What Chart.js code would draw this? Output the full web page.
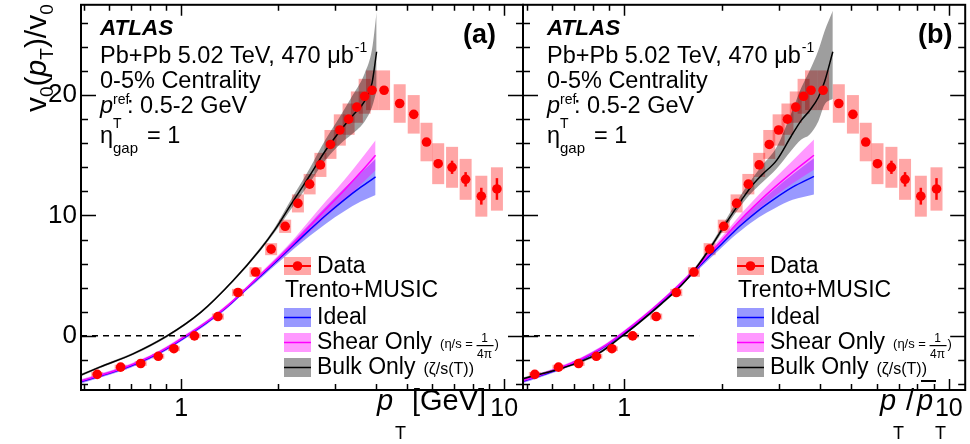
<!DOCTYPE html>
<html lang="en">
<head>
<meta charset="UTF-8">
<title>ATLAS v0 ratio</title>
<script src="https://cdn.jsdelivr.net/npm/chart.js"></script>
<style>
  body { margin: 0; background: #fff; }
  #wrap { position: relative; width: 970px; height: 444px; }
  #wrap canvas { position: absolute; left: 0; top: 0; }
  #ytitle {
    position: absolute; left: 21px; top: 112px; z-index: 2;
    transform-origin: 0 0; transform: rotate(-90deg);
    font-family: "Liberation Sans", Arial, sans-serif; font-size: 30px; line-height: 30px;
    white-space: nowrap; color: #000;
  }
  #ytitle .sub { font-size: 19px; position: relative; top: 7px; }
</style>
</head>
<body>
<div id="wrap">
  <canvas id="panelA" width="970" height="444"></canvas>
  <canvas id="panelB" width="970" height="444"></canvas>
  <div id="ytitle">v<span class="sub">0</span>(<i>p</i><span class="sub">T</span>)/v<span class="sub">0</span></div>
</div>
<script>
// ---- axis settings ----
const yMin = -4.5, yMax = 27.5;
const yMajorTicks = [0, 10, 20];
const yMinorTicks = [-4, -2, 2, 4, 6, 8, 12, 14, 16, 18, 22, 24, 26];
const xMajorTicks = [1, 10];
const xMinorTicks = [0.5, 0.6, 0.7, 0.8, 0.9, 2, 3, 4, 5, 6, 7, 8, 9];

// ---- ATLAS data ----
const dataPt = [0.55, 0.65, 0.75, 0.85, 0.95, 1.1, 1.3, 1.5, 1.7, 1.9, 2.1, 2.3, 2.5, 2.7, 2.9,
                3.1, 3.3, 3.5, 3.7, 3.9, 4.25, 4.75, 5.25, 5.75, 6.25, 6.9, 7.6, 8.5, 9.5];
// pT / <pT> for panel (b)
const dataPtScaled = [0.53, 0.627, 0.723, 0.82, 0.916, 1.061, 1.254, 1.446, 1.639, 1.832, 2.025, 2.218, 2.411, 2.604, 2.797,
                      2.989, 3.182, 3.375, 3.568, 3.761, 4.098, 4.581, 5.063, 5.545, 6.027, 6.654, 7.329, 8.197, 9.161];
const dataV0 = [-3.2, -2.6, -2.3, -1.7, -1.07, 0.0, 1.6, 3.6, 5.3, 7.2, 9.1, 11.0, 12.6, 14.2, 15.9,
                17.1, 18.0, 19.0, 19.9, 20.4, 20.4, 19.3, 18.4, 16.1, 14.3, 14.0, 13.0, 11.6, 12.2];
const dataStat = [0.1, 0.1, 0.1, 0.1, 0.1, 0.1, 0.1, 0.1, 0.1, 0.1, 0.1, 0.1, 0.15, 0.15, 0.15,
                  0.2, 0.2, 0.2, 0.2, 0.2, 0.2, 0.25, 0.3, 0.3, 0.35, 0.55, 0.6, 0.7, 0.9];
const dataSys = [0.2, 0.2, 0.2, 0.2, 0.2, 0.2, 0.25, 0.3, 0.4, 0.5, 0.55, 0.75, 0.85, 1.0, 1.2,
                 1.3, 1.3, 1.3, 1.45, 1.65, 1.65, 1.6, 1.6, 1.6, 1.7, 1.7, 1.7, 1.7, 1.8];

// ---- Trento+MUSIC, panel (a): vs pT ----
const idealXa = [0.49, 0.55, 0.65, 0.75, 0.85, 0.95, 1.05, 1.2, 1.4, 1.6, 1.8, 2.0, 2.25, 2.5, 2.8, 3.2, 3.6, 4.0];
const idealYa = [-3.8, -3.4, -2.8, -2.15, -1.45, -0.7, 0.05, 1.1, 2.5, 3.95, 5.2, 6.35, 7.65, 8.8, 10.0, 11.3, 12.35, 13.2];
const idealHiA = [-3.65, -3.25, -2.65, -2.0, -1.3, -0.55, 0.2, 1.25, 2.65, 4.1, 5.4, 6.6, 8.0, 9.3, 10.7, 12.25, 13.55, 14.7];
const idealLoA = [-3.95, -3.55, -2.95, -2.3, -1.6, -0.85, -0.1, 0.95, 2.35, 3.8, 5.0, 6.1, 7.3, 8.3, 9.3, 10.35, 11.15, 11.7];
const shearYa = [-3.75, -3.35, -2.75, -2.1, -1.4, -0.65, 0.1, 1.15, 2.55, 4.0, 5.3, 6.45, 7.8, 9.1, 10.5, 12.1, 13.6, 15.0];
const shearHiA = [-3.6, -3.2, -2.6, -1.95, -1.25, -0.5, 0.25, 1.3, 2.7, 4.15, 5.5, 6.7, 8.15, 9.6, 11.15, 12.95, 14.65, 16.25];
const shearLoA = [-3.9, -3.5, -2.9, -2.25, -1.55, -0.8, -0.05, 1.0, 2.4, 3.85, 5.1, 6.2, 7.45, 8.6, 9.85, 11.25, 12.55, 13.75];
const bulkXa = [0.49, 0.56, 0.71, 0.9, 1.15, 1.45, 1.76, 1.95, 2.2, 2.5, 2.8, 3.1, 3.4, 3.7, 3.9, 4.03];
const bulkYa = [-3.25, -2.6, -1.5, -0.05, 1.95, 4.6, 7.2, 8.8, 11.0, 13.3, 15.4, 17.0, 18.3, 19.5, 21.0, 23.6];
const bulkHiA = [-3.15, -2.5, -1.4, 0.05, 2.05, 4.7, 7.35, 9.0, 11.4, 13.9, 16.3, 18.2, 20.0, 21.8, 23.8, 26.9];
const bulkLoA = [-3.35, -2.7, -1.6, -0.15, 1.85, 4.5, 7.05, 8.6, 10.6, 12.7, 14.6, 15.9, 16.8, 17.8, 19.0, 20.4];

// ---- Trento+MUSIC, panel (b): vs pT/<pT> ----
const idealXb = [0.49, 0.53, 0.63, 0.74, 0.84, 0.92, 1.06, 1.22, 1.44, 1.66, 1.8, 2.0, 2.15, 2.3, 2.6, 2.91, 3.3, 3.84];
const idealYb = [-3.75, -3.45, -2.75, -1.95, -1.15, -0.45, 0.8, 2.15, 3.9, 5.5, 6.45, 7.65, 8.5, 9.25, 10.45, 11.4, 12.35, 13.25];
const idealHiB = [-3.6, -3.3, -2.6, -1.8, -1.0, -0.3, 0.95, 2.3, 4.05, 5.7, 6.7, 7.95, 8.85, 9.7, 11.05, 12.2, 13.4, 14.75];
const idealLoB = [-3.9, -3.6, -2.9, -2.1, -1.3, -0.6, 0.65, 2.0, 3.75, 5.3, 6.2, 7.35, 8.15, 8.8, 9.85, 10.6, 11.3, 11.75];
const shearYb = [-3.7, -3.4, -2.7, -1.9, -1.1, -0.4, 0.85, 2.2, 3.95, 5.55, 6.6, 7.95, 8.9, 9.75, 11.15, 12.35, 13.6, 15.0];
const shearHiB = [-3.55, -3.25, -2.55, -1.75, -0.95, -0.25, 1.0, 2.35, 4.1, 5.75, 6.85, 8.25, 9.25, 10.2, 11.75, 13.1, 14.55, 16.3];
const shearLoB = [-3.85, -3.55, -2.85, -2.05, -1.25, -0.55, 0.7, 2.05, 3.8, 5.35, 6.35, 7.65, 8.55, 9.3, 10.55, 11.6, 12.65, 13.8];
const bulkXb = [0.49, 0.53, 0.63, 0.74, 0.84, 0.965, 1.1, 1.3, 1.5, 1.66, 1.85, 2.05, 2.3, 2.47, 2.65, 2.95, 3.27, 3.51, 3.72, 3.96, 4.14, 4.39];
const bulkYb = [-3.55, -3.3, -2.75, -2.1, -1.4, -0.2, 1.0, 2.65, 4.2, 5.6, 7.4, 9.3, 11.3, 12.45, 13.35, 14.6, 16.6, 17.9, 18.7, 19.8, 21.1, 23.6];
const bulkHiB = [-3.45, -3.2, -2.65, -2.0, -1.3, -0.1, 1.1, 2.75, 4.3, 5.75, 7.6, 9.6, 11.8, 13.0, 14.1, 15.7, 18.5, 20.6, 22.0, 23.7, 25.3, 27.0];
const bulkLoB = [-3.65, -3.4, -2.85, -2.2, -1.5, -0.3, 0.9, 2.55, 4.1, 5.45, 7.2, 9.0, 10.9, 11.9, 12.7, 13.9, 15.4, 16.3, 16.7, 17.8, 19.2, 19.7];

// dashed zero reference line
const zeroLineXa = [0.49, 1.56];
const zeroLineXb = [0.4874, 1.70];
const zeroLineY = [0, 0];

const FONT = '"Liberation Sans", Arial, Helvetica, sans-serif';
const RED = '#ff0000';
const SYS_FILL = 'rgba(255,0,0,0.35)';
const BLUE_FILL = 'rgba(0,0,255,0.4)';
const PINK_FILL = 'rgba(255,0,255,0.4)';
const GRAY_FILL = 'rgba(0,0,0,0.38)';

function pts(xs, ys) { return xs.map((x, i) => ({ x: x, y: ys[i] })); }

function curve(xs, ys, color, width, dash) {
    return {
        type: 'line', data: pts(xs, ys), borderColor: color, borderWidth: width,
        borderDash: dash || [], pointRadius: 0, fill: false, cubicInterpolationMode: 'monotone'
    };
}

function band(xs, hi, lo, color) {
    return [
        { type: 'line', data: pts(xs, hi), borderWidth: 0, pointRadius: 0, fill: '+1',
          backgroundColor: color, cubicInterpolationMode: 'monotone' },
        { type: 'line', data: pts(xs, lo), borderWidth: 0, pointRadius: 0, fill: false,
          cubicInterpolationMode: 'monotone' }
    ];
}

function txt(ctx, s, x, y, size, style) {
    ctx.font = (style ? style + ' ' : '') + size + 'px ' + FONT;
    ctx.fillText(s, x, y);
    return x + ctx.measureText(s).width;
}

// systematic boxes (under everything) and stat bars (on top)
const errorPlugin = {
    id: 'errors',
    beforeDatasetsDraw(chart) {
        const { ctx, chartArea: a, scales: { x, y } } = chart;
        const xs = chart.$dataX;
        ctx.save();
        ctx.beginPath();
        ctx.rect(a.left, a.top, a.width, a.height);
        ctx.clip();
        ctx.fillStyle = SYS_FILL;
        xs.forEach((xv, i) => {
            const px = x.getPixelForValue(xv);
            const top = y.getPixelForValue(dataV0[i] + dataSys[i]);
            const bot = y.getPixelForValue(dataV0[i] - dataSys[i]);
            ctx.fillRect(px - 6, top, 12, bot - top);
        });
        ctx.restore();
    },
    afterDatasetsDraw(chart) {
        const { ctx, scales: { x, y } } = chart;
        const xs = chart.$dataX;
        ctx.save();
        ctx.strokeStyle = RED;
        ctx.lineWidth = 2.5;
        xs.forEach((xv, i) => {
            const px = x.getPixelForValue(xv);
            ctx.beginPath();
            ctx.moveTo(px, y.getPixelForValue(dataV0[i] + dataStat[i]));
            ctx.lineTo(px, y.getPixelForValue(dataV0[i] - dataStat[i]));
            ctx.stroke();
        });
        ctx.restore();
    }
};

// ROOT style frame with inward ticks on all four sides
const framePlugin = {
    id: 'frame',
    afterDraw(chart) {
        const { ctx, chartArea: a, scales: { x, y } } = chart;
        ctx.save();
        ctx.strokeStyle = '#000';
        ctx.lineWidth = 1.5;
        ctx.beginPath();
        const xt = xMajorTicks.map(v => [v, 11]).concat(xMinorTicks.map(v => [v, 6]));
        xt.forEach(([v, len]) => {
            if (v < x.min || v > x.max) return;
            const px = Math.round(x.getPixelForValue(v)) + 0.5;
            ctx.moveTo(px, a.bottom); ctx.lineTo(px, a.bottom - len);
            ctx.moveTo(px, a.top); ctx.lineTo(px, a.top + len);
        });
        const yt = yMajorTicks.map(v => [v, 15]).concat(yMinorTicks.map(v => [v, 7]));
        yt.forEach(([v, len]) => {
            const py = Math.round(y.getPixelForValue(v)) + 0.5;
            ctx.moveTo(a.left, py); ctx.lineTo(a.left + len, py);
            ctx.moveTo(a.right, py); ctx.lineTo(a.right - len, py);
        });
        ctx.stroke();
        ctx.lineWidth = 2;
        ctx.strokeRect(a.left, a.top, a.width, a.height);
        ctx.restore();
    }
};

// labels, legend and axis titles
function makeTextPlugin(p) {
    return {
        id: 'texts',
        afterDraw(chart) {
            const ctx = chart.ctx;
            ctx.save();
            ctx.fillStyle = '#000';
            ctx.textAlign = 'left';
            ctx.textBaseline = 'alphabetic';
            const x0 = p.infoX;
            txt(ctx, 'ATLAS', x0, 35, 22.5, 'italic bold');
            let e = txt(ctx, 'Pb+Pb 5.02 TeV, 470 \u03BCb', x0, 63, 23.5);
            txt(ctx, '-1', e + 1, 52, 14);
            txt(ctx, '0-5% Centrality', x0, 88, 23.5);
            txt(ctx, 'p', x0, 113, 23.5, 'italic');
            txt(ctx, 'ref', x0 + 13, 104, 14);
            txt(ctx, 'T', x0 + 13, 128, 14);
            txt(ctx, ': 0.5-2 GeV', x0 + 27, 113, 23.5);
            txt(ctx, '\u03B7', x0, 143, 23.5);
            txt(ctx, 'gap', x0 + 13, 153, 15);
            txt(ctx, '= 1', x0 + 47, 143, 23.5);
            txt(ctx, p.tag, p.tagX, 43, 27, 'bold');

            // legend
            const lx = p.legX, bw = 27;
            ctx.fillStyle = SYS_FILL;
            ctx.fillRect(lx, 257, bw, 18);
            ctx.strokeStyle = RED; ctx.lineWidth = 2;
            ctx.beginPath(); ctx.moveTo(lx, 266); ctx.lineTo(lx + bw, 266); ctx.stroke();
            ctx.fillStyle = RED;
            ctx.beginPath(); ctx.arc(lx + bw / 2, 266, 4.8, 0, Math.PI * 2); ctx.fill();
            const rows = [
                [308, BLUE_FILL, '#0000ff'],
                [333, PINK_FILL, '#ff00ff'],
                [358, GRAY_FILL, '#000000']
            ];
            rows.forEach(([ty, fillC, lineC]) => {
                ctx.fillStyle = fillC;
                ctx.fillRect(lx, ty, bw, 19);
                ctx.strokeStyle = lineC; ctx.lineWidth = 1.5;
                ctx.beginPath(); ctx.moveTo(lx, ty + 9.5); ctx.lineTo(lx + bw, ty + 9.5); ctx.stroke();
            });
            ctx.fillStyle = '#000';
            txt(ctx, 'Data', lx + 33, 273, 23);
            txt(ctx, 'Trento+MUSIC', lx + 1, 297, 23);
            txt(ctx, 'Ideal', lx + 33, 324, 23);
            e = txt(ctx, 'Shear Only', lx + 33, 349, 23);
            e = txt(ctx, '(\u03B7/s = ', e + 8, 348, 13);
            ctx.textAlign = 'center';
            txt(ctx, '1', e + 8, 342, 12);
            txt(ctx, '4\u03C0', e + 8, 358, 12);
            ctx.textAlign = 'left';
            ctx.fillRect(e, 345, 17, 1.2);
            txt(ctx, ')', e + 18, 348, 13);
            e = txt(ctx, 'Bulk Only', lx + 33, 374, 23);
            txt(ctx, '(\u03B6/s(T))', e + 8, 374, 16);

            // x axis titles
            if (p.tag === '(a)') {
                txt(ctx, 'p', 377, 410, 29, 'italic');
                txt(ctx, 'T', 395, 439, 18);
                txt(ctx, '[GeV]', 412, 410, 29);
            } else {
                txt(ctx, 'p', 880, 410, 29, 'italic');
                txt(ctx, 'T', 893, 439, 18);
                txt(ctx, '/', 906, 410, 29);
                txt(ctx, 'p', 917, 410, 29, 'italic');
                ctx.fillRect(921, 380, 15, 2);
                txt(ctx, 'T', 935, 439, 18);
            }
            ctx.restore();
        }
    };
}

function makePanel(id, p) {
    const datasets = [
        { type: 'scatter', data: pts(p.dataX, dataV0), pointRadius: 4.8, pointBackgroundColor: RED,
          pointBorderWidth: 0, showLine: false },
        curve(p.zeroX, zeroLineY, '#000000', 1.5, [6, 5]),
        curve(p.bulkX, p.bulkY, '#000000', 1.5),
        curve(p.idealX, p.shearY, '#ff00ff', 1.5),
        curve(p.idealX, p.idealY, '#0000ff', 1.5),
        ...band(p.bulkX, p.bulkHi, p.bulkLo, GRAY_FILL),
        ...band(p.idealX, p.shearHi, p.shearLo, PINK_FILL),
        ...band(p.idealX, p.idealHi, p.idealLo, BLUE_FILL)
    ];
    const noPad = s => { s.paddingTop = 0; s.paddingBottom = 0; s.paddingLeft = 0; s.paddingRight = 0; };
    return new Chart(document.getElementById(id), {
        type: 'scatter',
        data: { datasets: datasets },
        options: {
            responsive: false,
            animation: false,
            events: [],
            devicePixelRatio: 1,
            layout: { padding: { left: p.padLeft, right: 970 - p.right, top: 3, bottom: 0 } },
            plugins: { legend: { display: false }, tooltip: { enabled: false } },
            scales: {
                x: {
                    type: 'logarithmic', min: p.xMin, max: p.xMax,
                    grid: { display: false, drawTicks: false }, border: { display: false },
                    afterBuildTicks: s => { s.ticks = xMajorTicks.map(v => ({ value: v })); },
                    afterFit: s => { s.height = 444 - 390; noPad(s); },
                    ticks: { display: true, autoSkip: false, maxRotation: 0, minRotation: 0, padding: 4, color: '#000',
                             font: { family: FONT, size: 25 }, callback: v => String(v) }
                },
                y: {
                    type: 'linear', min: yMin, max: yMax,
                    grid: { display: false, drawTicks: false }, border: { display: false },
                    afterBuildTicks: s => { s.ticks = yMajorTicks.map(v => ({ value: v })); },
                    afterFit: s => { s.width = p.yWidth; noPad(s); },
                    ticks: { display: p.showY, padding: 4, color: '#000',
                             font: { family: FONT, size: 26 }, callback: v => String(v) }
                }
            }
        },
        plugins: [errorPlugin, framePlugin, makeTextPlugin(p)]
    });
}

// the error plugin needs the panel's x values before the first draw
Chart.register({
    id: 'panelData',
    beforeInit(chart) { chart.$dataX = chart.canvas.id === 'panelA' ? dataPt : dataPtScaled; }
});

makePanel('panelA', {
    padLeft: 0, yWidth: 81, right: 523, xMin: 0.49, xMax: 11.44, showY: true,
    dataX: dataPt, zeroX: zeroLineXa,
    idealX: idealXa, idealY: idealYa, idealHi: idealHiA, idealLo: idealLoA,
    shearY: shearYa, shearHi: shearHiA, shearLo: shearLoA,
    bulkX: bulkXa, bulkY: bulkYa, bulkHi: bulkHiA, bulkLo: bulkLoA,
    infoX: 100, tag: '(a)', tagX: 463, legX: 284
});
makePanel('panelB', {
    padLeft: 523, yWidth: 0, right: 968, xMin: 0.4874, xMax: 11.23, showY: false,
    dataX: dataPtScaled, zeroX: zeroLineXb,
    idealX: idealXb, idealY: idealYb, idealHi: idealHiB, idealLo: idealLoB,
    shearY: shearYb, shearHi: shearHiB, shearLo: shearLoB,
    bulkX: bulkXb, bulkY: bulkYb, bulkHi: bulkHiB, bulkLo: bulkLoB,
    infoX: 547, tag: '(b)', tagX: 918, legX: 737
});
</script>
</body>
</html>
